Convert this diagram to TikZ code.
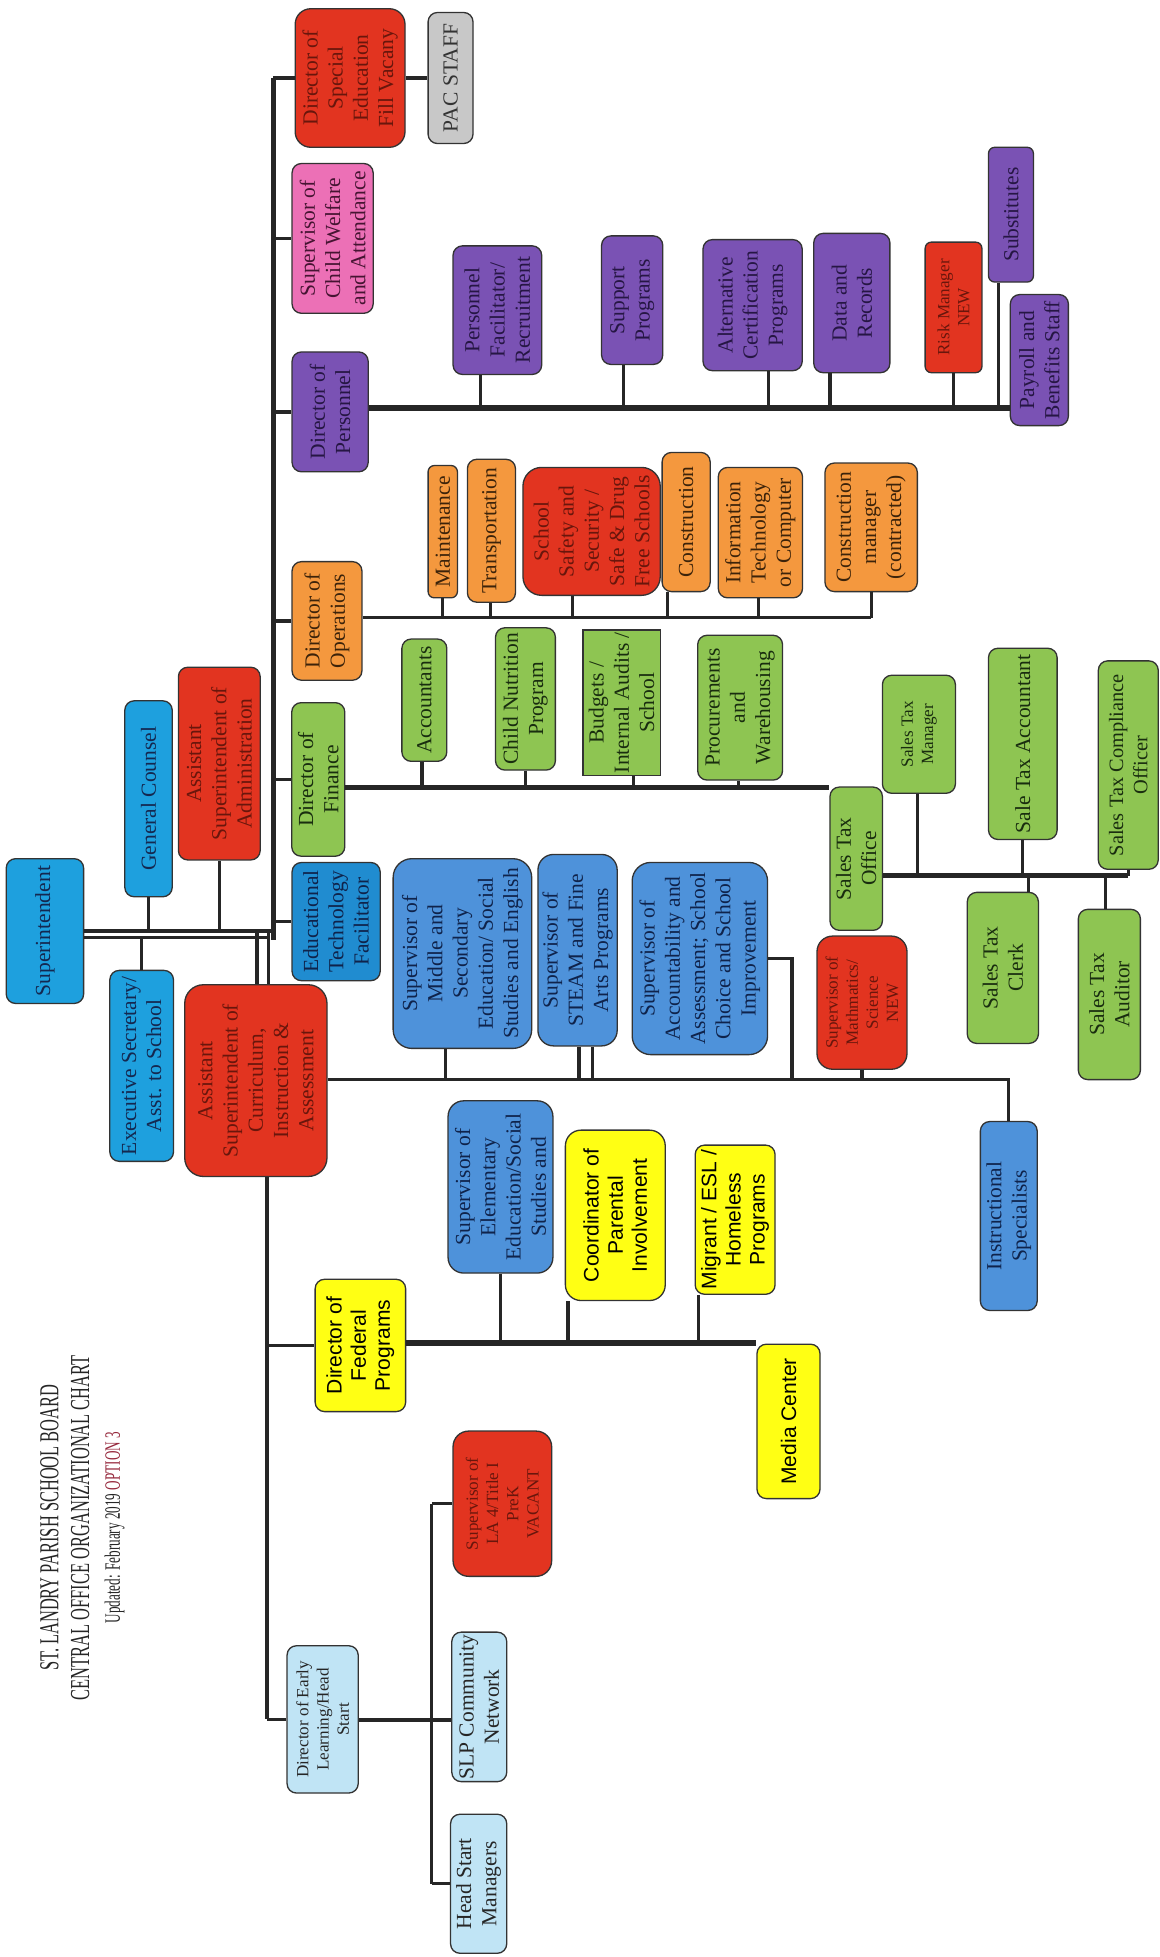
\documentclass[tikz,border=0pt]{standalone}
\usepackage{fontspec}
\setmainfont{Liberation Serif}
\setsansfont{Liberation Sans}
\newfontfamily\titlefont{Liberation Serif}[FakeStretch=0.6]
\usetikzlibrary{calc}
\definecolor{cyanfill}{RGB}{30,160,222}
\definecolor{techfill}{RGB}{32,140,208}
\definecolor{supfill}{RGB}{78,146,218}
\definecolor{redfill}{RGB}{226,52,32}
\definecolor{orangefill}{RGB}{244,152,62}
\definecolor{greenfill}{RGB}{142,197,82}
\definecolor{purplefill}{RGB}{122,82,180}
\definecolor{pinkfill}{RGB}{236,112,182}
\definecolor{grayfill}{RGB}{200,200,200}
\definecolor{yellowfill}{RGB}{255,255,20}
\definecolor{palefill}{RGB}{192,228,245}
\definecolor{optred}{RGB}{150,40,60}

\begin{document}
\begin{tikzpicture}[x=0.2mm, y=-0.2mm,
  office/.style={draw=black!80, line width=0.6pt, rounded corners=1.5mm, rotate=90,
    align=center, inner sep=1pt, font=\fontsize{9.8}{11.5}\selectfont, text=black!85},
  sz/.style 2 args={minimum width=#2*0.2mm, minimum height=#1*0.2mm},
  smalltxt/.style={font=\fontsize{7.8}{9.2}\selectfont},
  sanstxt/.style={font=\sffamily\fontsize{9.6}{11}\selectfont},
  cyanbox/.style={office, fill=cyanfill, text={rgb,255:red,20;green,40;blue,80}},
  techbox/.style={office, fill=techfill, text={rgb,255:red,15;green,35;blue,75}},
  supbox/.style={office, fill=supfill, text={rgb,255:red,15;green,35;blue,75}},
  redbox/.style={office, fill=redfill, text={rgb,255:red,105;green,22;blue,12}},
  orangebox/.style={office, fill=orangefill, text={rgb,255:red,60;green,35;blue,10}},
  greenbox/.style={office, fill=greenfill, text={rgb,255:red,25;green,45;blue,15}},
  purplebox/.style={office, fill=purplefill, text={rgb,255:red,38;green,22;blue,68}},
  pinkbox/.style={office, fill=pinkfill, text={rgb,255:red,70;green,20;blue,50}},
  graybox/.style={office, fill=grayfill, text=black!80},
  yellowbox/.style={office, fill=yellowfill, sanstxt, text=black},
  palebox/.style={office, fill=palefill, text=black!85},
  wire/.style={line width=1.5pt, draw=black!85},
  bus/.style={line width=2.6pt, draw=black!85}]

\useasboundingbox (0,0) rectangle (929,1568);
\fill[white] (0,0) rectangle (929,1568);

% title
\node[rotate=90, align=center, text=black!85, font=\titlefont\fontsize{12.5}{14}\selectfont] (title) at (66,1224)
  {ST. LANDRY PARISH SCHOOL BOARD\\CENTRAL OFFICE ORGANIZATIONAL CHART\\{\fontsize{10}{10}\selectfont Updated: February 2019 \textcolor{optred}{OPTION 3}}};

% top level
\node[cyanbox, sz={62}{116}] (supt) at (36,746) {Superintendent};
\node[cyanbox, sz={38}{157}] (gcoun) at (119,640) {General Counsel};
\node[cyanbox, sz={51}{153}] (esec) at (113.5,854) {Executive Secretary/\\Asst. to School};
\node[redbox, sz={65.5}{154.4}] (asadm) at (175.7,611.8) {Assistant\\Superintendent of\\Administration};
\node[redbox, rounded corners=3mm, sz={114}{153.6}] (ascur) at (205,865.8) {Assistant\\Superintendent of\\Curriculum,\\Instruction \&\\Assessment};

% directors
\node[redbox, rounded corners=2.5mm, sz={88}{111}] (dspec) at (280.5,62.5) {Director of\\Special\\Education\\Fill Vacany};
\node[graybox, sz={36}{105}] (pac) at (361,62.5) {PAC STAFF};
\node[pinkbox, sz={65}{120}] (cwel) at (266.5,191) {Supervisor of\\Child Welfare\\and Attendance};
\node[purplebox, sz={61}{96}] (dpers) at (264.5,330) {Director of\\Personnel};
\node[orangebox, sz={56}{95}] (dops) at (262,497.5) {Director of\\Operations};
\node[greenbox, sz={42.5}{123}] (dfin) at (255,624.5) {Director of\\Finance};
\node[techbox, sz={70.6}{94.7}] (edtech) at (269.3,738.4) {Educational\\Technology\\Facilitator};

% personnel
\node[purplebox, sz={71}{103}] (pfac) at (398.5,248.5) {Personnel\\Facilitator/\\Recruitment};
\node[purplebox, sz={49}{103}] (psup) at (506.5,240.5) {Support\\Programs};
\node[purplebox, sz={79.5}{105}] (palt) at (603,244.5) {Alternative\\Certification\\Programs};
\node[purplebox, sz={61}{111.6}] (pdata) at (682.5,242.8) {Data and\\Records};
\node[redbox, smalltxt, rounded corners=1mm, sz={45.5}{104.6}] (prisk) at (764,246.3) {Risk Manager\\NEW};
\node[purplebox, rounded corners=1mm, sz={36}{108}] (psubs) at (810,172) {Substitutes};
\node[purplebox, sz={46.5}{105}] (ppay) at (832.75,288.5) {Payroll and\\Benefits Staff};

% operations
\node[orangebox, rounded corners=1mm, sz={23.5}{106}] (omaint) at (354.75,426) {Maintenance};
\node[orangebox, sz={38.5}{114.5}] (otrans) at (393.75,425.25) {Transportation};
\node[redbox, rounded corners=3mm, sz={110}{102.5}] (osafe) at (474,425.75) {School\\Safety and\\Security /\\Safe \& Drug\\Free Schools};
\node[orangebox, sz={38.5}{111.5}] (ocons) at (549.75,418.25) {Construction};
\node[orangebox, sz={67.5}{104.5}] (oit) at (609.25,426.75) {Information\\Technology\\or Computer};
\node[orangebox, sz={74}{103}] (ocmgr) at (698,422.5) {Construction\\manager\\(contracted)};

% finance
\node[greenbox, sz={36}{98}] (facc) at (340,561) {Accountants};
\node[greenbox, sz={48}{114}] (fcnp) at (421,560) {Child Nutrition\\Program};
\node[greenbox, sharp corners, sz={62}{114}] (fbud) at (498,563) {Budgets /\\Internal Audits /\\School};
\node[greenbox, sz={68}{116}] (fproc) at (593,567) {Procurements\\and\\Warehousing};
\node[greenbox, sz={42}{114.8}] (fsto) at (686,688) {Sales Tax\\Office};
\node[greenbox, smalltxt, sz={58.5}{94.6}] (stmgr) at (736.25,588.3) {Sales Tax\\Manager};
\node[greenbox, sz={55}{153.2}] (stacc) at (819.5,596) {Sale Tax Accountant};
\node[greenbox, font=\fontsize{9.3}{11}\selectfont, sz={48}{167}] (stcomp) at (904,613) {Sales Tax Compliance\\Officer};
\node[greenbox, sz={57}{121}] (stclerk) at (803.5,775.5) {Sales Tax\\Clerk};
\node[greenbox, sz={49.7}{136.4}] (staud) at (888.85,796.8) {Sales Tax\\Auditor};

% curriculum
\node[supbox, rounded corners=3mm, sz={111}{152}] (smid) at (370.5,764) {Supervisor of\\Middle and\\Secondary\\Education/ Social\\Studies and English};
\node[supbox, rounded corners=2.5mm, sz={63.5}{153.4}] (ssteam) at (462.75,761.3) {Supervisor of\\STEAM and Fine\\Arts Programs};
\node[supbox, rounded corners=3mm, sz={108.5}{154}] (sacc) at (560.75,768) {Supervisor of\\Accountability and\\Assessment; School\\Choice and School\\Improvement};
\node[redbox, smalltxt, rounded corners=2.5mm, sz={72.1}{106.7}] (smath) at (690.65,803.35) {Supervisor of\\Mathmatics/\\Science\\NEW};
\node[supbox, sz={45.5}{151.4}] (sinst) at (808.25,974.3) {Instructional\\Specialists};

% federal programs
\node[yellowbox, sz={72.5}{106}] (dfed) at (288.75,1078) {Director of\\Federal\\Programs};
\node[supbox, rounded corners=2.5mm, sz={84}{138}] (selem) at (401,951) {Supervisor of\\Elementary\\Education/Social\\Studies and};
\node[yellowbox, rounded corners=2.5mm, sz={80}{136.5}] (ypar) at (493,973.75) {Coordinator of\\Parental\\Involvement};
\node[yellowbox, sz={64}{119.5}] (ymig) at (589,977.25) {Migrant / ESL /\\Homeless\\Programs};
\node[yellowbox, sz={50.5}{123.7}] (ymed) at (631.75,1138.85) {Media Center};

% early learning
\node[palebox, smalltxt, sz={57}{118}] (dearly) at (258.5,1377.6) {Director of Early\\Learning/Head\\Start};
\node[redbox, smalltxt, rounded corners=2.5mm, sz={79}{116.4}] (ela4) at (402.5,1204.8) {Supervisor of\\LA 4/Title I\\PreK\\VACANT};
\node[palebox, sz={44}{118.2}] (eslp) at (384,1367.6) {SLP Community\\Network};
\node[palebox, sz={45}{111.4}] (ehsm) at (383.5,1509.3) {Head Start\\Managers};

% bus levels
\coordinate (ttop) at (219,62.5);
\coordinate (persbus) at (0,327);
\coordinate (opsbus) at (0,495);
\coordinate (finbus) at (0,631);
\coordinate (taxbus) at (0,701.5);
\coordinate (curbus) at (0,865);
\coordinate (fedbus) at (0,1076);
\coordinate (elbus) at (0,1378);

% superintendent lines
\draw[wire] (supt.south) -- (supt.south -| ttop);
\draw[wire] (supt.south |- 0,751) -- (215,751);
\draw[wire] (gcoun.west) -- (gcoun.west |- supt.south);
\draw[wire] (asadm.west) -- (asadm.west |- supt.south);
\draw[wire] (esec.east) -- (esec.east |- 0,751);
\foreach \x in {206,215}
  \draw[wire] (ascur.east -| \x,0) -- (supt.south -| \x,0);

% upper trunk
\draw[line width=2.2pt, black!85] (ttop) -- (ttop |- 0,753);
\foreach \n in {dspec,cwel,dops,edtech}
  \draw[wire] (\n.north -| ttop) -- (\n.north);
\draw[wire] (dpers.north -| ttop) -- (dpers.north);
\draw[wire] (dfin.north -| ttop) -- (dfin.north);
\draw[wire] (dspec.south) -- (pac.north);

% personnel
\draw[bus] (dpers.south |- persbus) -- (ppay.north |- persbus);
\foreach \n/\x in {pfac/385, psup/499.5, palt/615.6, pdata/665, prisk/764, psubs/800}
  \draw[wire] (\n.west -| \x,0) -- (persbus -| \x,0);

% operations
\draw[wire] (dops.south |- opsbus) -- (ocmgr.west |- opsbus);
\foreach \n/\x in {omaint/354.5, otrans/393, osafe/458.5, ocons/535, oit/607.6, ocmgr/698}
  \draw[wire] (\n.west -| \x,0) -- (opsbus -| \x,0);

% finance
\draw[bus] (dfin.south |- finbus) -- (fsto.north |- finbus);
\foreach \n/\x in {facc/338, fcnp/421, fbud/507.5, fproc/591.7}
  \draw[wire] (\n.west -| \x,0) -- (finbus -| \x,0);
\draw[bus] (fsto.south |- taxbus) -- (stcomp.west |- taxbus);
\foreach \n/\x in {stmgr/735, stacc/819, stcomp/904}
  \draw[wire] (\n.west -| \x,0) -- (taxbus -| \x,0);
\foreach \n/\x in {stclerk/824, staud/885.7}
  \draw[wire] (\n.east -| \x,0) -- (taxbus -| \x,0);

% curriculum
\draw[wire] (ascur.south |- curbus) -| (sinst.east);
\foreach \n/\x in {smid/357, ssteam/464, ssteam/475, smath/690.7}
  \draw[wire] (\n.west -| \x,0) -- (curbus -| \x,0);
\draw[wire] (sacc.south) -| (curbus -| 634.5,0);

% lower trunk
\draw[wire] (ascur.west -| 214,0) -- (dearly.north -| 214,0);
\draw[wire] (dfed.north -| 214,0) -- (dfed.north);
\draw[wire] (dearly.north -| 214,0) -- (dearly.north);

% federal programs
\draw[bus] (dfed.south |- fedbus) -- (ymed.north |- fedbus);
\foreach \n/\x in {selem/400.8, ypar/455, ymig/559.6}
  \draw[wire] (\n.west -| \x,0) -- (fedbus -| \x,0);

% early learning
\draw[wire] (dearly.south |- elbus) -- (eslp.north |- elbus);
\draw[wire] (ela4.north -| 346,0) -- (ehsm.north -| 346,0);
\draw[wire] (ela4.north -| 346,0) -- (ela4.north);
\draw[wire] (ehsm.north -| 346,0) -- (ehsm.north);
\end{tikzpicture}
\end{document}
